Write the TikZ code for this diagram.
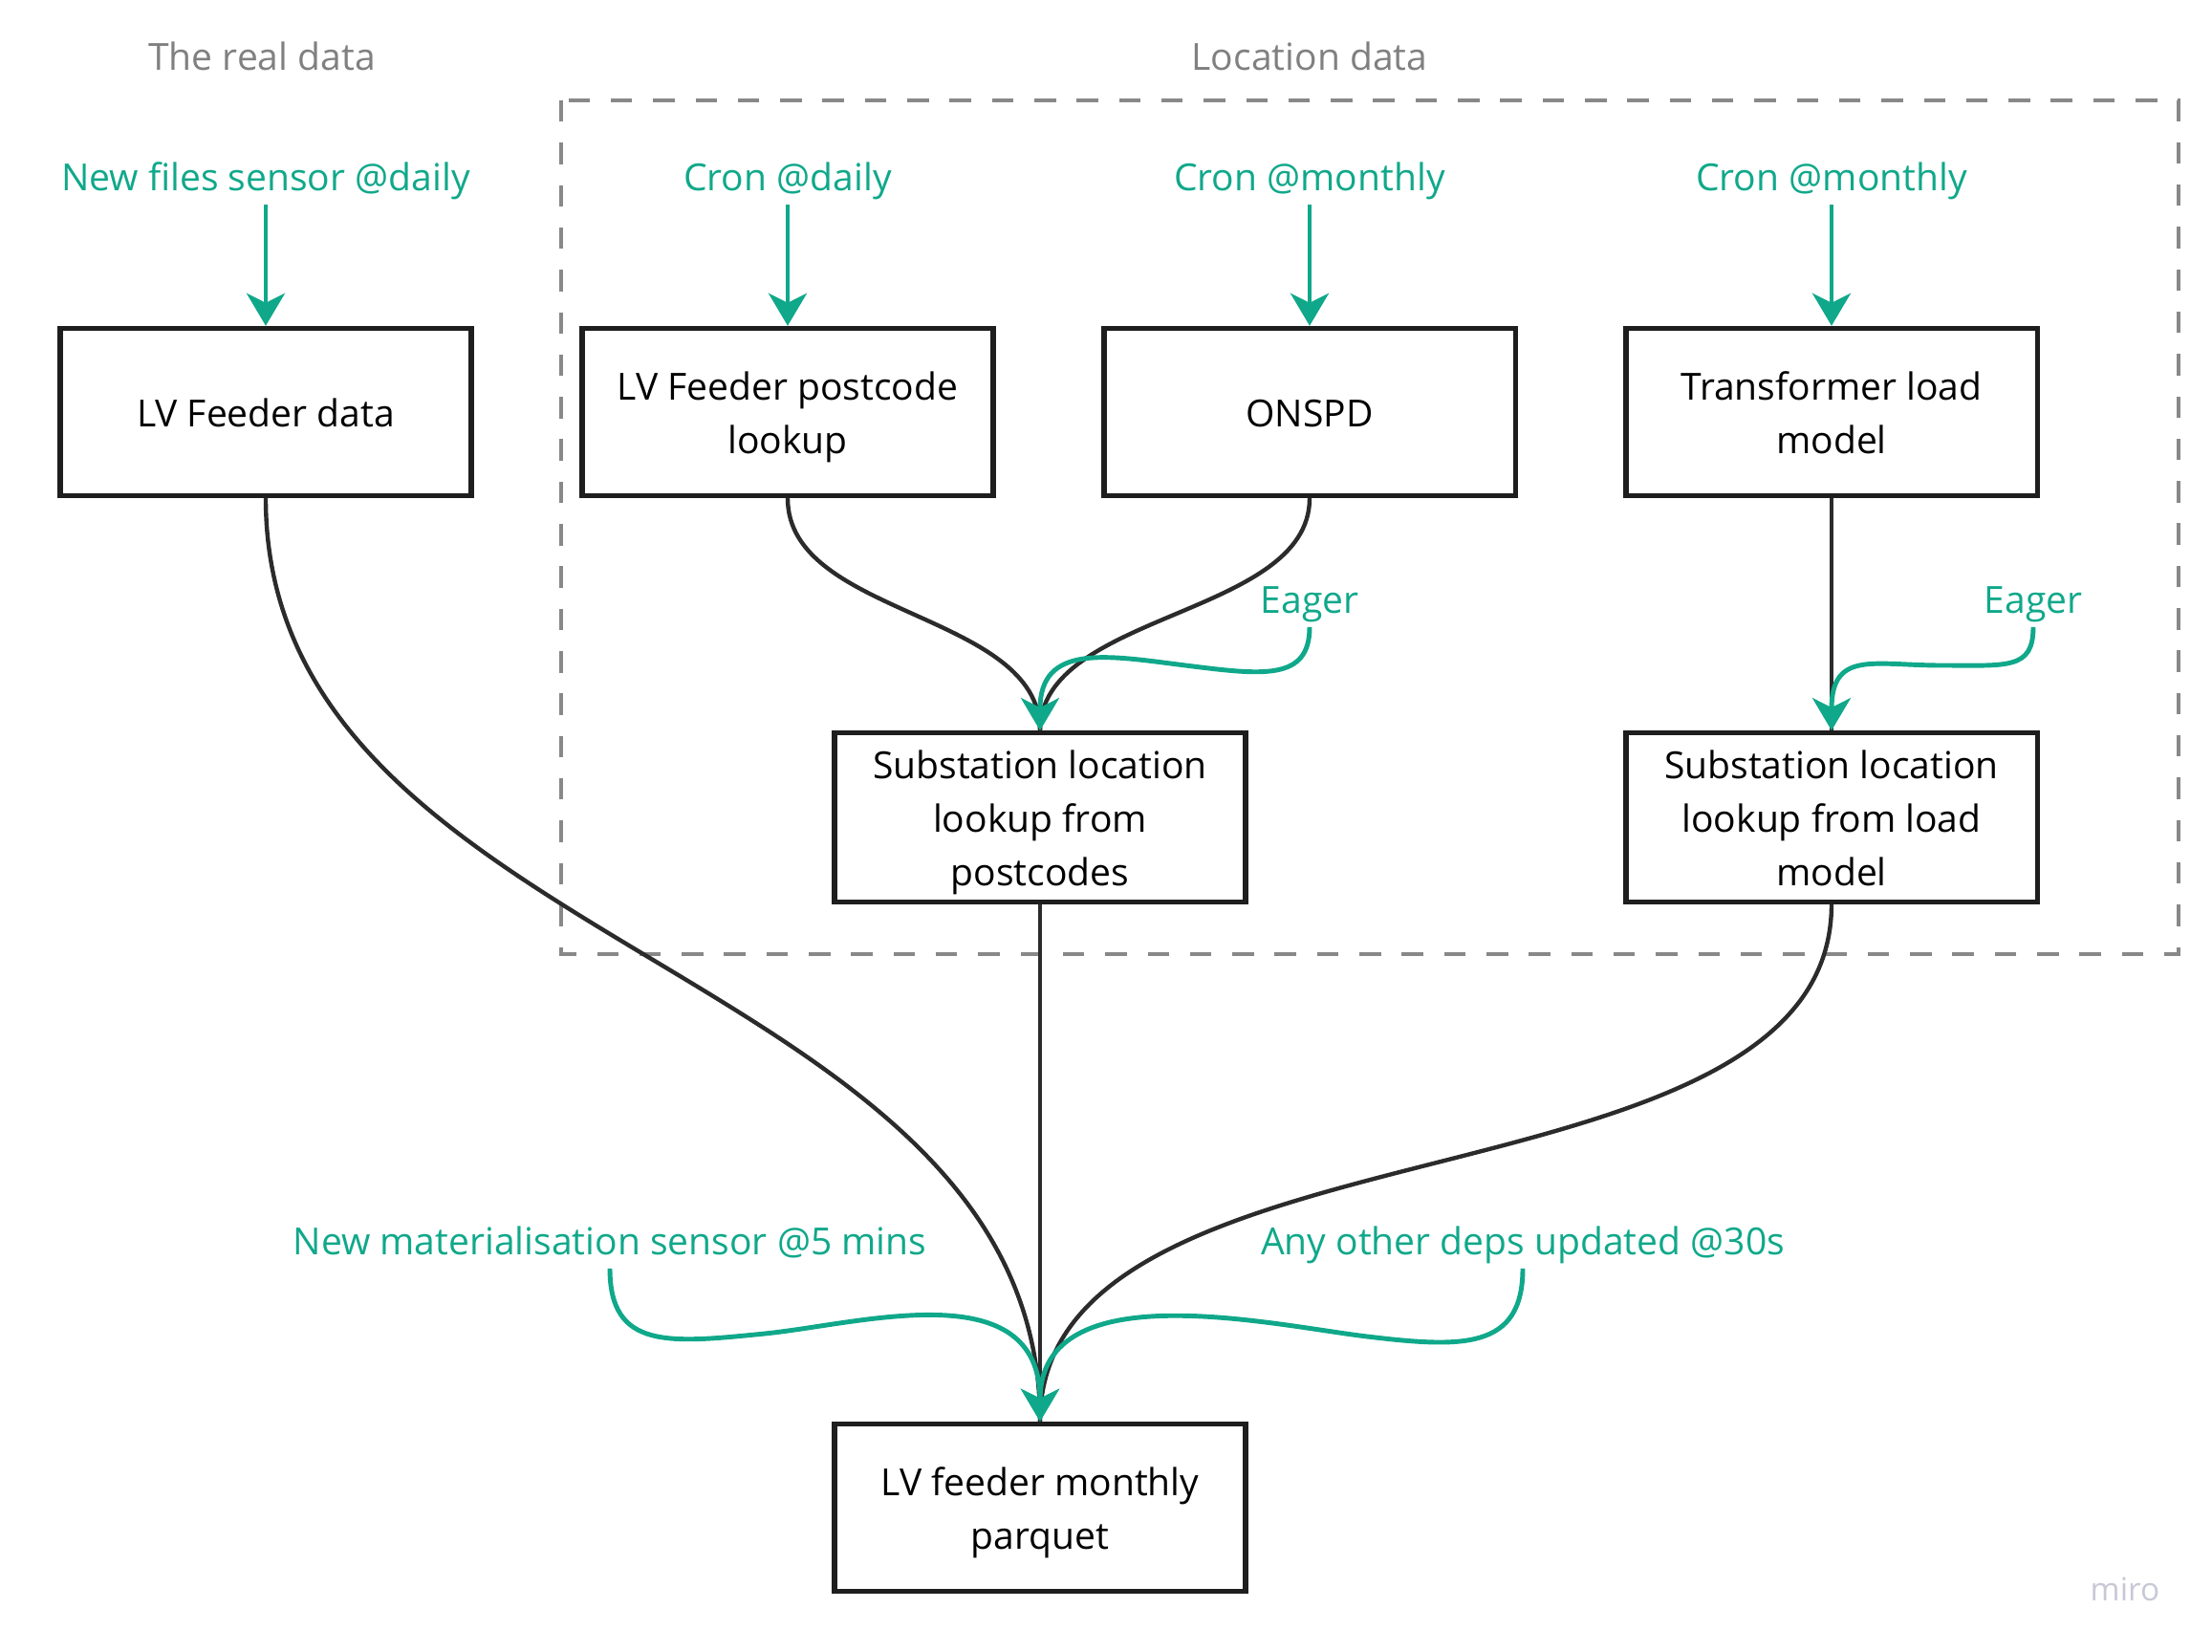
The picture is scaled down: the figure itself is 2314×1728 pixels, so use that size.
\documentclass[tikz,border=0pt]{standalone}
\usepackage{fontspec}
\setmainfont{Open Sans}
\usepackage{xcolor}
\usepackage{tikz}
\usetikzlibrary{arrows.meta}
\definecolor{Flow}{HTML}{10A88A}
\definecolor{Ink}{HTML}{2B2B2B}
\definecolor{Edge}{HTML}{1E1E1E}
\definecolor{Frame}{HTML}{888888}
\definecolor{Caption}{HTML}{808080}
\definecolor{Mark}{HTML}{C8C8D6}
\newcommand{\topstrut}{\rule{0pt}{13.6pt}}
\tikzset{
  asset/.style={draw=Edge, line width=1.5pt, minimum width=4.3cm, minimum height=1.75cm,
                align=center, inner sep=0pt, font=\fontsize{11.1}{15.9}\selectfont},
  trigger/.style={text=Flow, font=\fontsize{11.1}{13}\selectfont,
                  text height=8pt, text depth=2.6pt, inner xsep=1pt, inner ysep=1.3pt},
  group/.style={text=Caption, font=\fontsize{11.1}{13}\selectfont},
  grouping/.style={draw=Frame, line width=1.4pt, dash pattern=on 6.4pt off 6.2pt},
  dep/.style={draw=Ink, line width=1.25pt},
  sched/.style={draw=Flow, line width=1.4pt,
                -{Stealth[length=0.34cm, width=0.4cm, inset=0.1cm]}},
}

\begin{document}
\begin{tikzpicture}[x=0.01cm, y=-0.01cm]
  \useasboundingbox (0,0) rectangle (2314,1728);

  \node[group] (realhead) at (274,59) {The real data};
  \node[group] (lochead) at (1370,59) {Location data};
  \draw[grouping] (587,105) rectangle (2279,998);

  \node[asset] (feeder) at (278,431) {\topstrut LV Feeder data\strut};
  \node[asset] (postlookup) at (824,431) {\topstrut LV Feeder postcode\\lookup\strut};
  \node[asset] (onspd) at (1370,431) {\topstrut ONSPD\strut};
  \node[asset] (loadmodel) at (1916,431) {\topstrut Transformer load\\model\strut};
  \node[asset] (subpost) at (1088,855) {\topstrut Substation location\\lookup from\\postcodes\strut};
  \node[asset] (subload) at (1916,855) {\topstrut Substation location\\lookup from load\\model\strut};
  \node[asset] (parquet) at (1088,1577) {\topstrut LV feeder monthly\\parquet\strut};

  \node[trigger] (newfiles) at (278,190) {New files sensor @daily};
  \node[trigger] (crondaily) at (824,190) {Cron @daily};
  \node[trigger] (cronpost) at (1370,190) {Cron @monthly};
  \node[trigger] (cronload) at (1916,190) {Cron @monthly};
  \node[trigger] (eagerpost) at (1370,632) {Eager};
  \node[trigger] (eagerload) at (2127,632) {Eager};
  \node[trigger] (newmat) at (638,1303) {New materialisation sensor @5 mins};
  \node[trigger] (otherdeps) at (1593,1303) {Any other deps updated @30s};

  \node[text=Mark, font=\fontsize{9.5}{11}\selectfont] (miro) at (2223,1662) {miro};

  \draw[dep] (feeder.south) .. controls +(0,480) and +(0,-480) .. (parquet.north);
  \draw[dep] (postlookup.south) .. controls +(0,124) and +(0,-124) .. (subpost.north);
  \draw[dep] (onspd.south) .. controls +(0,124) and +(0,-124) .. (subpost.north);
  \draw[dep] (loadmodel.south) -- (subload.north);
  \draw[dep] (subpost.south) -- (parquet.north);
  \draw[dep] (subload.south) .. controls +(0,330) and +(0,-330) .. (parquet.north);

  \draw[sched] (newfiles.south) -- (feeder.north);
  \draw[sched] (crondaily.south) -- (postlookup.north);
  \draw[sched] (cronpost.south) -- (onspd.north);
  \draw[sched] (cronload.south) -- (loadmodel.north);
  \draw[sched] (eagerpost.south) .. controls +(0,57) and (1320,706) .. (1240,696)
    .. controls (1160,686) and (1088,672) .. (subpost.north);
  \draw[sched] (eagerload.south) .. controls +(0,45) and (2100,696) .. (2030,696)
    .. controls (1960,696) and (1916,680) .. (subload.north);
  \draw[sched] (newmat.south) .. controls +(0,85) and (700,1405) .. (800,1395)
    .. controls (900,1385) and (1088,1330) .. (parquet.north);
  \draw[sched] (otherdeps.south) .. controls +(0,85) and (1530,1410) .. (1430,1398)
    .. controls (1330,1386) and (1088,1330) .. (parquet.north);
\end{tikzpicture}
\end{document}
